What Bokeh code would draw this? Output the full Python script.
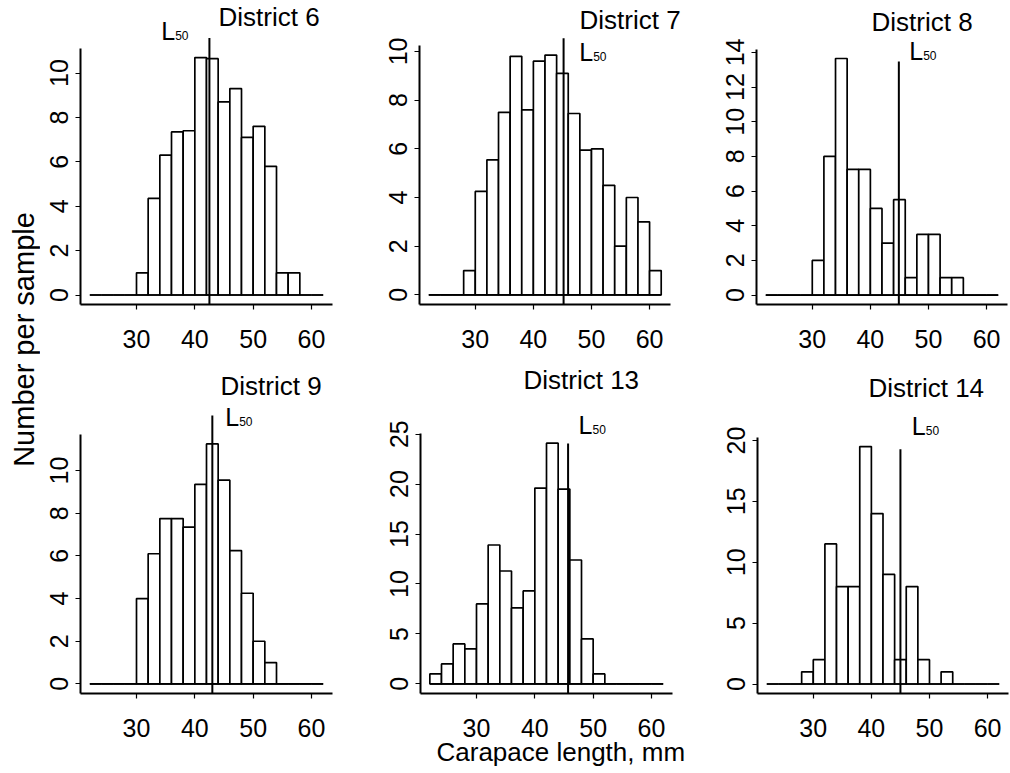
import math
from bokeh.plotting import figure
from bokeh.models import FixedTicker, Label, Arrow, Title
from bokeh.layouts import row, column
from bokeh.embed import file_html
from bokeh.resources import INLINE

# ---------------- data ----------------
bin_left = [22, 24, 26, 28, 30, 32, 34, 36, 38, 40, 42, 44, 46, 48, 50, 52, 54, 56, 58, 60]
bin_right = [24, 26, 28, 30, 32, 34, 36, 38, 40, 42, 44, 46, 48, 50, 52, 54, 56, 58, 60, 62]

districts = ["District 6", "District 7", "District 8", "District 9", "District 13", "District 14"]

counts_d6 = [0, 0, 0, 0, 1, 4.35, 6.3, 7.35, 7.4, 10.7, 10.65, 8.7, 9.3, 7.1, 7.6, 5.8, 1, 1, 0, 0]
counts_d7 = [0, 0, 0, 1, 4.25, 5.55, 7.5, 9.8, 7.6, 9.6, 9.85, 9.1, 7.45, 5.95, 6.0, 4.5, 2, 4, 3, 1]
counts_d8 = [0, 0, 0, 0, 2, 8, 13.65, 7.25, 7.25, 5, 3, 5.5, 1, 3.5, 3.5, 1, 1, 0, 0, 0]
counts_d9 = [0, 0, 0, 0, 4, 6.1, 7.75, 7.75, 7.35, 9.35, 11.25, 9.55, 6.25, 4.25, 2, 1, 0, 0, 0, 0]
counts_d13 = [1, 2, 4, 3.5, 8, 13.9, 11.3, 7.6, 9.3, 19.6, 24.1, 19.5, 12.4, 4.5, 1, 0, 0, 0, 0, 0]
counts_d14 = [0, 0, 0, 1, 2, 11.5, 8, 8, 19.5, 14, 9, 2, 8, 2, 0, 1, 0, 0, 0, 0]
all_counts = [counts_d6, counts_d7, counts_d8, counts_d9, counts_d13, counts_d14]

l50_x = [42.5, 45.2, 44.9, 43.0, 45.7, 45.0]
l50_top = [11.58, 10.54, 13.47, 12.58, 24.07, 19.27]

x_ticks = [30, 40, 50, 60]
y_ticks = [
    [0, 2, 4, 6, 8, 10],
    [0, 2, 4, 6, 8, 10],
    [0, 2, 4, 6, 8, 10, 12, 14],
    [0, 2, 4, 6, 8, 10],
    [0, 5, 10, 15, 20, 25],
    [0, 5, 10, 15, 20],
]
x_limits = (20.4, 63.6)

y_axis_title = "Number per sample"
x_axis_title = "Carapace length, mm"

# ---------------- layout / style ----------------
FONT = "Liberation Sans"
# canvas width, canvas height, left border, width of the plot region,
# top of plot region (from canvas top), x-axis line (from canvas top)
geom = [
    (300, 365, 40, 252, 48, 307),
    (345, 365, 79, 251, 45, 304),
    (325, 365, 71, 251, 49, 307),
    (300, 408, 40, 252, 69, 329),
    (350, 408, 80, 252, 68, 328),
    (320, 408, 67, 251, 72, 330),
]
# title text position (screen px from frame bottom-left, text middle)
title_pos = [(138, 287.7), (160, 284.7), (115, 282.7), (140, 308), (103, 313.7), (111, 305.7)]
# "L" position and "50" position (screen px, text middle)
l_pos = [(80.7, 274.0), (159.7, 252.7), (152.7, 254.0), (144.7, 276.7), (158, 268.4), (154.3, 267.7)]
sub_pos = [(94.7, 269.5), (173.7, 248.2), (166.7, 249.5), (158.7, 272.2), (172, 263.9), (168.3, 263.2)]


def make_panel(i):
    w, h, bl, plot_w, top_px, axis_px = geom[i]
    counts = all_counts[i]
    ymax = max(counts)
    pad = 0.04 * ymax
    lo, hi = -pad, ymax + pad
    ppu = (axis_px - top_px) / (hi - lo)
    y_end = hi + top_px / ppu  # frame reaches the top of the canvas
    ppx = plot_w / (x_limits[1] - x_limits[0])
    x_end = x_limits[1] + (w - bl - plot_w) / ppx  # frame reaches the right edge
    p = figure(width=w, height=h, x_range=(x_limits[0], x_end), y_range=(lo, y_end),
               output_backend="svg", toolbar_location=None,
               min_border_left=bl, min_border_right=0,
               min_border_top=0, min_border_bottom=h - axis_px)
    p.outline_line_color = None
    p.grid.visible = False
    p.background_fill_color = "white"
    p.border_fill_color = "white"

    p.quad(left=bin_left, right=bin_right, bottom=0, top=counts,
           fill_color="white", line_color="black", line_width=1.7)
    p.segment(x0=bin_left[0], y0=0, x1=bin_right[-1], y1=0,
              line_color="black", line_width=1.7)

    p.add_layout(Arrow(end=None, x_start=l50_x[i], y_start=lo,
                       x_end=l50_x[i], y_end=l50_top[i],
                       line_color="black", line_width=2))

    for ax in (p.xaxis[0], p.yaxis[0]):
        ax.axis_line_width = 2
        ax.axis_line_color = "black"
        ax.major_tick_line_width = 1.2
        ax.major_tick_line_color = "black"
        ax.major_tick_out = 5
        ax.major_tick_in = 0
        ax.minor_tick_out = 0
        ax.minor_tick_in = 0
        ax.major_label_text_font = FONT
        ax.major_label_text_font_size = "25px"
        ax.major_label_text_color = "black"
    p.xaxis[0].ticker = FixedTicker(ticks=x_ticks)
    p.yaxis[0].ticker = FixedTicker(ticks=y_ticks[i])
    p.xaxis[0].bounds = x_limits
    p.yaxis[0].bounds = (lo, hi)
    p.xaxis[0].major_label_standoff = 20
    p.yaxis[0].major_label_standoff = 7
    p.yaxis[0].major_label_orientation = "vertical"

    tx, ty = title_pos[i]
    p.add_layout(Label(x=tx, y=ty, x_units="screen", y_units="screen",
                       text=districts[i], text_font=FONT, text_font_size="26px",
                       text_color="black", text_align="left", text_baseline="middle"))
    lx, ly = l_pos[i]
    p.add_layout(Label(x=lx, y=ly, x_units="screen", y_units="screen", text="L",
                       text_font=FONT, text_font_size="25px", text_color="black",
                       text_align="left", text_baseline="middle"))
    sx, sy = sub_pos[i]
    p.add_layout(Label(x=sx, y=sy, x_units="screen", y_units="screen", text="50",
                       text_font=FONT, text_font_size="12px", text_color="black",
                       text_align="left", text_baseline="middle"))
    return p


panels = [make_panel(i) for i in range(6)]

# x-axis title, below the middle bottom panel
panels[4].add_layout(Title(text=x_axis_title, align="left", offset=16, standoff=-10,
                           text_font=FONT, text_font_size="26px",
                           text_font_style="normal", text_color="black"), "below")

# y-axis title strip
strip = figure(width=40, height=773, x_range=(0, 40), y_range=(0, 773),
               output_backend="svg", toolbar_location=None,
               min_border_left=0, min_border_right=0, min_border_top=0, min_border_bottom=0)
strip.axis.visible = False
strip.grid.visible = False
strip.outline_line_color = None
strip.add_layout(Label(x=23, y=434, x_units="screen", y_units="screen",
                       text=y_axis_title, angle=math.pi / 2, text_font=FONT,
                       text_font_size="29px", text_color="black",
                       text_align="center", text_baseline="middle"))

layout = row(strip, column(row(panels[0], panels[1], panels[2]),
                           row(panels[3], panels[4], panels[5])))

open("out.html", "w").write(file_html(layout, INLINE))
